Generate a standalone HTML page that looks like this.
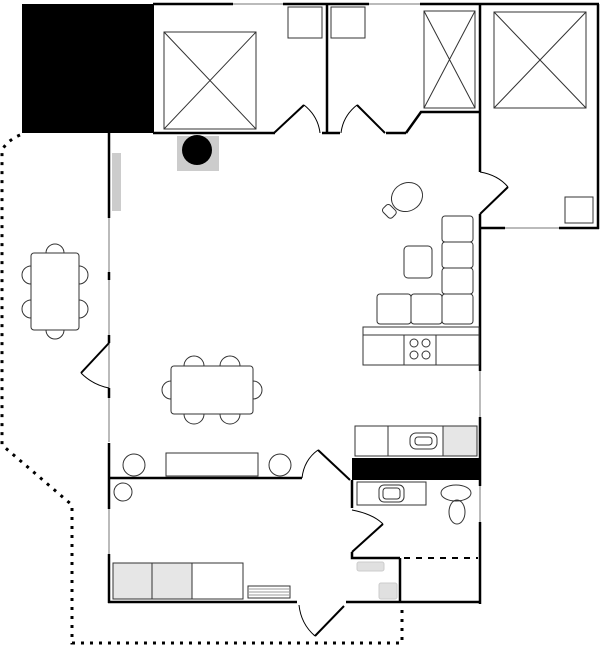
<!DOCTYPE html>
<html><head><style>html,body{margin:0;padding:0;background:#fff}svg{display:block}</style></head>
<body>
<svg width="600" height="645" viewBox="0 0 600 645" xmlns="http://www.w3.org/2000/svg">
<g fill="none" stroke-linecap="butt">
<!-- dotted outline -->
<g stroke="#000" stroke-width="3" stroke-dasharray="3,6">
<path d="M20,135 Q8,140 2,150 L2,445 L72,505 L72,643 L402,643 L402,608"/>
</g>
<!-- black block -->
<rect x="22" y="4" width="132" height="129" fill="#000" stroke="none"/>
<!-- gray wall lines (windows) -->
<g stroke="#bbb" stroke-width="2">
<line x1="233" y1="4" x2="283" y2="4"/>
<line x1="369" y1="4" x2="420" y2="4"/>
<line x1="505" y1="228" x2="559" y2="228"/>
<line x1="109" y1="218" x2="109" y2="442"/>
<line x1="109" y1="509" x2="109" y2="554"/>
<line x1="480" y1="371" x2="480" y2="417"/>
<line x1="480" y1="486" x2="480" y2="522"/>
</g>
<!-- walls -->
<g stroke="#000" stroke-width="2.5">
<line x1="153" y1="4" x2="233" y2="4"/>
<line x1="283" y1="4" x2="369" y2="4"/>
<line x1="420" y1="4" x2="599" y2="4"/>
<line x1="598" y1="4" x2="598" y2="229"/>
<line x1="480" y1="228" x2="505" y2="228"/>
<line x1="559" y1="228" x2="599" y2="228"/>
<line x1="327" y1="4" x2="327" y2="133"/>
<line x1="480" y1="4" x2="480" y2="172"/>
<line x1="480" y1="214" x2="480" y2="371"/>
<line x1="480" y1="417" x2="480" y2="486"/>
<line x1="480" y1="522" x2="480" y2="604"/>
<line x1="153" y1="133" x2="275" y2="133"/>
<line x1="322" y1="133" x2="340" y2="133"/>
<line x1="386" y1="133" x2="406" y2="133"/>
<polyline points="406,133 421,112 480,112"/>
<line x1="109" y1="133" x2="109" y2="218"/>
<line x1="109" y1="272" x2="109" y2="280"/>
<line x1="109" y1="335" x2="109" y2="343"/>
<line x1="109" y1="388" x2="109" y2="398"/>
<line x1="109" y1="443" x2="109" y2="509"/>
<line x1="109" y1="554" x2="109" y2="603"/>
<line x1="109" y1="478" x2="302" y2="478"/>
<line x1="352" y1="480" x2="352" y2="508"/>
<polyline points="352,552 352,558 400,558"/>
<line x1="400" y1="558" x2="400" y2="603"/>
<line x1="108" y1="602" x2="297" y2="602"/>
<line x1="346" y1="602" x2="481" y2="602"/>
</g>
<line x1="404" y1="558" x2="478" y2="558" stroke="#000" stroke-width="2" stroke-dasharray="6,6"/>
<!-- doors -->
<g stroke="#000" stroke-width="2">
<line x1="274" y1="133" x2="304" y2="105"/>
<line x1="357" y1="105" x2="385" y2="133"/>
<line x1="508" y1="187" x2="480" y2="214"/>
<line x1="109" y1="343" x2="81" y2="373"/>
<line x1="318" y1="450" x2="350" y2="480"/>
<line x1="383" y1="524" x2="352" y2="552"/>
<line x1="315" y1="636" x2="344" y2="606"/>
</g>
<g stroke="#000" stroke-width="1">
<path d="M304,105 Q318,116 320,133"/>
<path d="M357,105 Q343,116 341,133"/>
<path d="M480,172 Q498,175 508,187"/>
<path d="M81,373 Q93,385 109,388"/>
<path d="M318,450 Q304,460 302,478"/>
<path d="M352,510 Q373,514 383,524"/>
<path d="M299,605 Q301,624 315,636"/>
</g>
<rect x="352" y="458" width="128" height="22" fill="#000"/>
<!-- furniture -->
<g stroke="#333" stroke-width="1">
<rect x="164" y="32" width="92" height="97"/><path d="M164,32 L256,129 M256,32 L164,129"/>
<rect x="424" y="11" width="51" height="97"/><path d="M424,11 L475,108 M475,11 L424,108"/>
<rect x="494" y="12" width="92" height="96"/><path d="M494,12 L586,108 M586,12 L494,108"/>
<rect x="288" y="7" width="34" height="31"/>
<rect x="331" y="7" width="34" height="31"/>
<rect x="565" y="197" width="28" height="26"/>
<ellipse cx="407" cy="197" rx="16" ry="14" transform="rotate(-30 407 197)"/>
<rect x="384" y="205" width="10" height="13" rx="3" transform="rotate(-45 389 211)"/>
<!-- outdoor table -->
<path d="M46,253 A9,9 0 0 1 64,253 M46,330 A9,9 0 0 0 64,330 M31,266 A9,9 0 0 0 31,284 M31,300 A9,9 0 0 0 31,318 M79,266 A9,9 0 0 1 79,284 M79,300 A9,9 0 0 1 79,318"/>
<rect x="31" y="253" width="48" height="77" rx="3" fill="#fff"/>
<!-- living table -->
<path d="M184,366 A10,10 0 0 1 204,366 M220,366 A10,10 0 0 1 240,366 M184,414 A10,10 0 0 0 204,414 M220,414 A10,10 0 0 0 240,414 M171,381 A9,9 0 0 0 171,399 M253,381 A9,9 0 0 1 253,399"/>
<rect x="171" y="366" width="82" height="48" rx="3" fill="#fff"/>
<!-- sofa -->
<rect x="442" y="216" width="31" height="26" rx="3"/>
<rect x="442" y="242" width="31" height="26" rx="3"/>
<rect x="442" y="268" width="31" height="26" rx="3"/>
<rect x="442" y="294" width="31" height="30" rx="3"/>
<rect x="411" y="294" width="31" height="30" rx="3"/>
<rect x="377" y="294" width="34" height="30" rx="3"/>
<rect x="404" y="246" width="28" height="32" rx="4"/>
<!-- kitchen -->
<rect x="363" y="327" width="116" height="38"/><line x1="363" y1="335" x2="479" y2="335"/>
<line x1="404" y1="335" x2="404" y2="365"/><line x1="436" y1="335" x2="436" y2="365"/>
<circle cx="414" cy="343" r="4"/><circle cx="426" cy="343" r="4"/><circle cx="414" cy="355" r="4"/><circle cx="426" cy="355" r="4"/>
<rect x="443" y="426" width="34" height="30" fill="#e6e6e6"/>
<rect x="355" y="426" width="122" height="30"/>
<line x1="388" y1="426" x2="388" y2="456"/><line x1="443" y1="426" x2="443" y2="456"/>
<rect x="410" y="433" width="27" height="16" rx="6"/><rect x="415" y="437" width="17" height="8" rx="3"/>
<!-- living bottom -->
<circle cx="134" cy="465" r="11"/><circle cx="280" cy="465" r="11"/>
<rect x="166" y="453" width="92" height="23"/>
<circle cx="123" cy="492" r="9"/>
<!-- bathroom -->
<rect x="357" y="482" width="69" height="23"/>
<rect x="379" y="485" width="25" height="17" rx="5"/><rect x="383" y="488" width="17" height="11" rx="3"/>
<ellipse cx="456" cy="493" rx="15" ry="8"/>
<ellipse cx="457" cy="512" rx="8" ry="12"/>
<!-- storage -->
<rect x="113" y="563" width="39" height="36" fill="#e6e6e6"/>
<rect x="152" y="563" width="40" height="36" fill="#e6e6e6"/>
<rect x="192" y="563" width="51" height="36"/>
<rect x="248" y="586" width="42" height="12"/>
<path d="M249,589 H289 M249,592 H289 M249,595 H289" stroke="#999"/>
</g>
<g fill="#e0e0e0" stroke="#ccc" stroke-width="1">
<rect x="357" y="562" width="27" height="9" rx="2"/>
<rect x="379" y="583" width="18" height="16" rx="2"/>
</g>
<rect x="112" y="153" width="9" height="58" fill="#ccc"/>
<rect x="177" y="136" width="42" height="35" fill="#ccc"/>
<circle cx="197" cy="150" r="15" fill="#000"/>
</svg>
</body></html>
